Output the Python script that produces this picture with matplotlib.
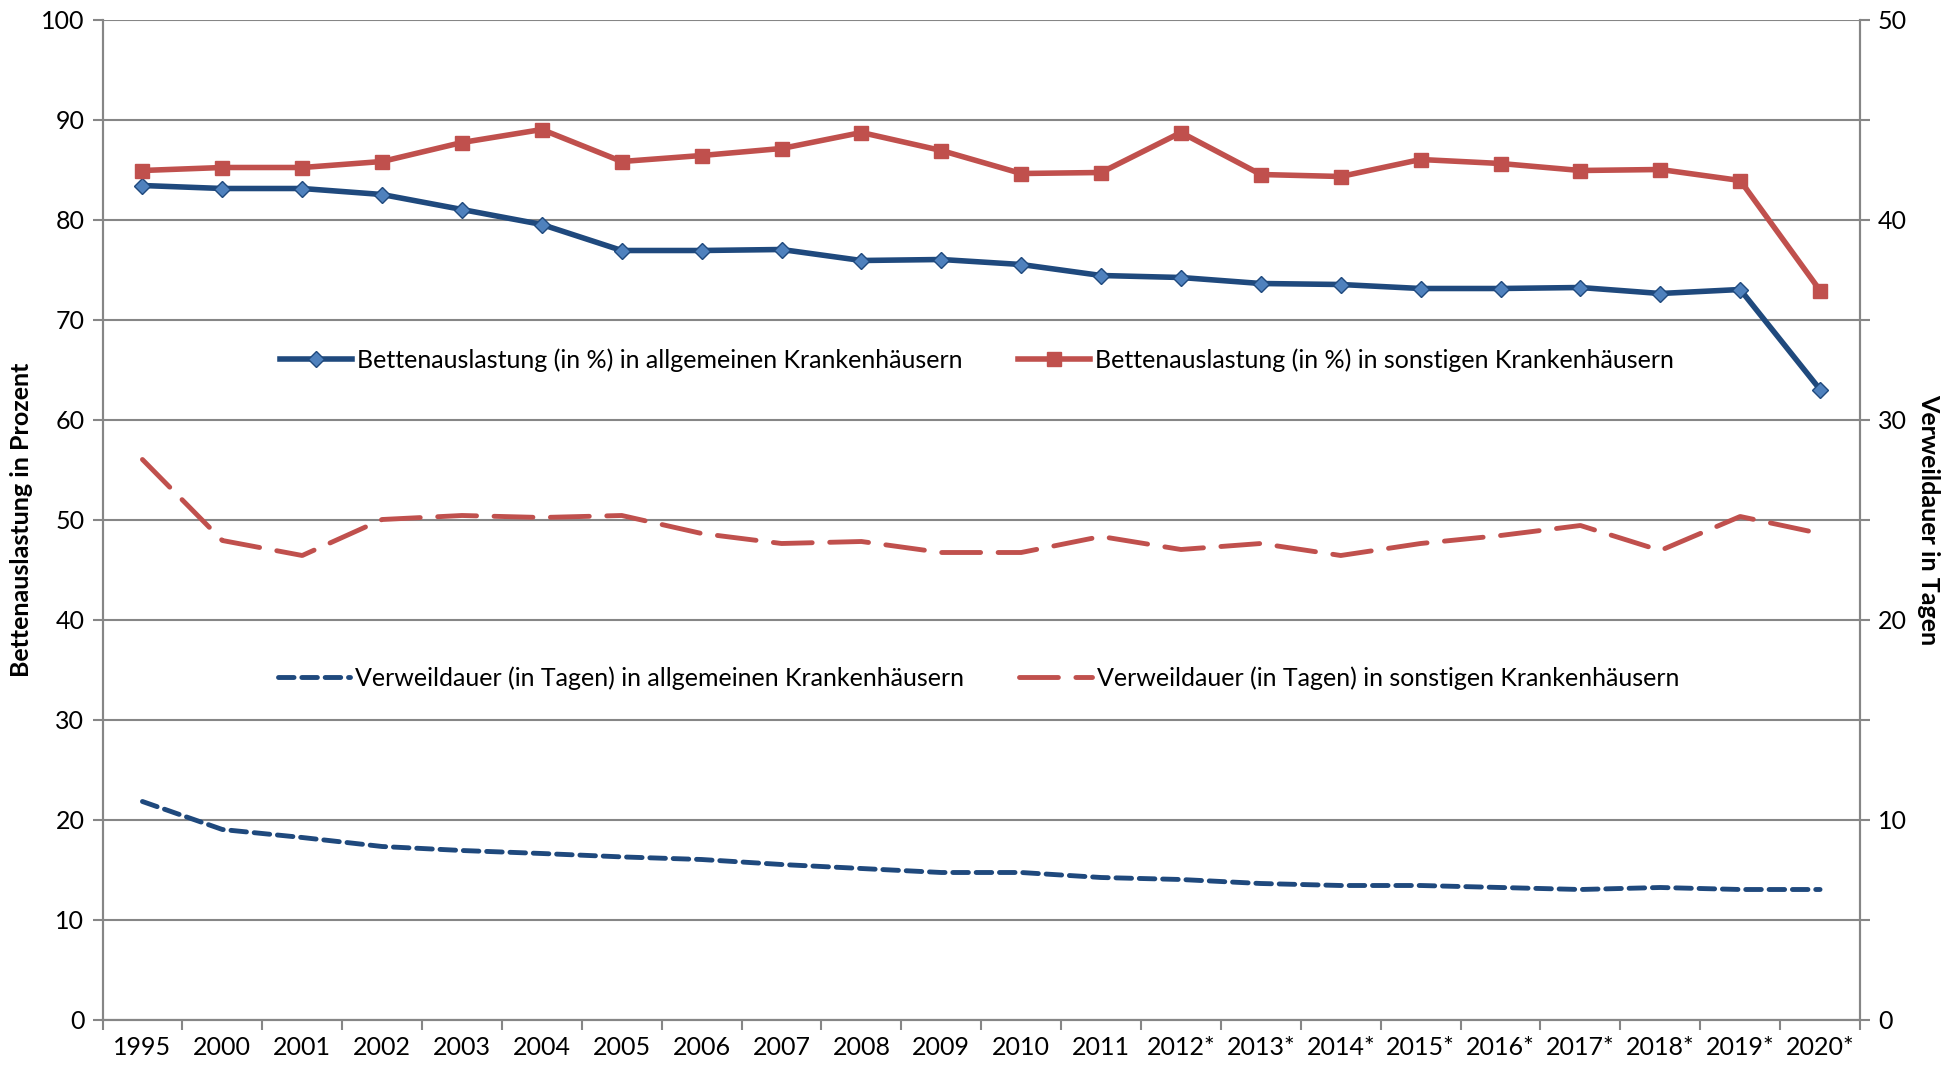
import matplotlib.pyplot as plt
from matplotlib.ticker import MultipleLocator

plt.rcParams['font.family'] = ['Lato', 'DejaVu Sans']

jahre = ['1995', '2000', '2001', '2002', '2003', '2004', '2005', '2006', '2007', '2008',
         '2009', '2010', '2011', '2012*', '2013*', '2014*', '2015*', '2016*', '2017*',
         '2018*', '2019*', '2020*']

# Bettenauslastung in %
betten_allg = [83.4, 83.1, 83.1, 82.5, 81.0, 79.5, 76.9, 76.9, 77.0, 75.9, 76.0, 75.5,
               74.4, 74.2, 73.6, 73.5, 73.1, 73.1, 73.2, 72.6, 73.0, 63.0]
betten_sonst = [84.9, 85.2, 85.2, 85.8, 87.7, 89.0, 85.8, 86.4, 87.1, 88.7, 86.9, 84.6,
                84.7, 88.7, 84.5, 84.3, 86.0, 85.6, 84.9, 85.0, 83.9, 72.9]

# Verweildauer in Tagen
verweil_allg = [10.9, 9.5, 9.1, 8.65, 8.45, 8.3, 8.13, 8.0, 7.75, 7.55, 7.35, 7.35,
                7.1, 7.0, 6.8, 6.7, 6.7, 6.6, 6.5, 6.6, 6.5, 6.5]
verweil_sonst = [28.0, 23.95, 23.2, 25.0, 25.2, 25.1, 25.2, 24.3, 23.8, 23.9, 23.35, 23.35,
                 24.15, 23.5, 23.8, 23.2, 23.8, 24.2, 24.7, 23.45, 25.15, 24.3]

dunkelblau = '#1F497D'
hellblau = '#4F81BD'
rot = '#C0504D'
grau = '#868686'

fig = plt.figure(figsize=(19.59, 10.70), dpi=100)
ax = fig.add_axes([102.5 / 1959, 50.5 / 1070, 1757.5 / 1959, 1000 / 1070])
ax2 = ax.twinx()

x = list(range(len(jahre)))

l1, = ax.plot(x, betten_allg, color=dunkelblau, lw=4, marker='D', ms=8,
              mfc=hellblau, mec=dunkelblau, mew=1,
              label='Bettenauslastung (in %) in allgemeinen Krankenhäusern')
l2, = ax.plot(x, betten_sonst, color=rot, lw=4, marker='s', ms=10,
              mfc=rot, mec=rot,
              label='Bettenauslastung (in %) in sonstigen Krankenhäusern')
l3, = ax2.plot(x, verweil_allg, color=dunkelblau, lw=3.5, ls=(0, (3.2, 1.6)),
               dash_capstyle='round',
               label='Verweildauer (in Tagen) in allgemeinen Krankenhäusern')
l4, = ax2.plot(x, verweil_sonst, color=rot, lw=3.5, ls=(0, (8, 3.6)),
               dash_capstyle='round',
               label='Verweildauer (in Tagen) in sonstigen Krankenhäusern')

ax.set_xlim(-0.5, len(jahre) - 0.5)
ax.set_ylim(0, 100)
ax2.set_ylim(0, 50)
ax.yaxis.set_major_locator(MultipleLocator(10))
ax2.yaxis.set_major_locator(MultipleLocator(10))
ax2.yaxis.set_minor_locator(MultipleLocator(5))

ax.set_xticks(x)
ax.set_xticklabels(jahre)
ax.set_xticks([i - 0.5 for i in range(len(jahre) + 1)], minor=True)
ax.tick_params(axis='x', which='major', length=0, pad=12, labelsize=18)
ax.tick_params(axis='x', which='minor', length=7, width=1.5, color=grau)
ax.tick_params(axis='y', length=7, width=1.5, color=grau, labelsize=18, pad=6)
ax2.tick_params(axis='y', which='both', length=7, width=1.5, color=grau,
                labelsize=18, pad=6)

ax.grid(axis='y', color=grau, lw=1.5)
ax.set_axisbelow(True)
for a in (ax, ax2):
    for s in a.spines.values():
        s.set_color(grau)
        s.set_linewidth(1.5)
    a.spines['top'].set_visible(False)

ax.set_ylabel('Bettenauslastung in Prozent', fontsize=18, fontweight='bold', labelpad=6)
ax2.set_ylabel('Verweildauer in Tagen', fontsize=18, fontweight='bold',
               rotation=270, labelpad=24)

ax.legend(handles=[l1, l2], loc='center', bbox_to_anchor=(0.4976, 0.6595),
          ncol=2, frameon=False, fontsize=18, handlelength=2.9,
          handletextpad=0.2, columnspacing=2.2)
ax2.legend(handles=[l3, l4], loc='center', bbox_to_anchor=(0.4985, 0.3415),
           ncol=2, frameon=False, fontsize=18, handlelength=2.9,
           handletextpad=0.2, columnspacing=2.2)

fig.savefig('out.png', dpi=100)
